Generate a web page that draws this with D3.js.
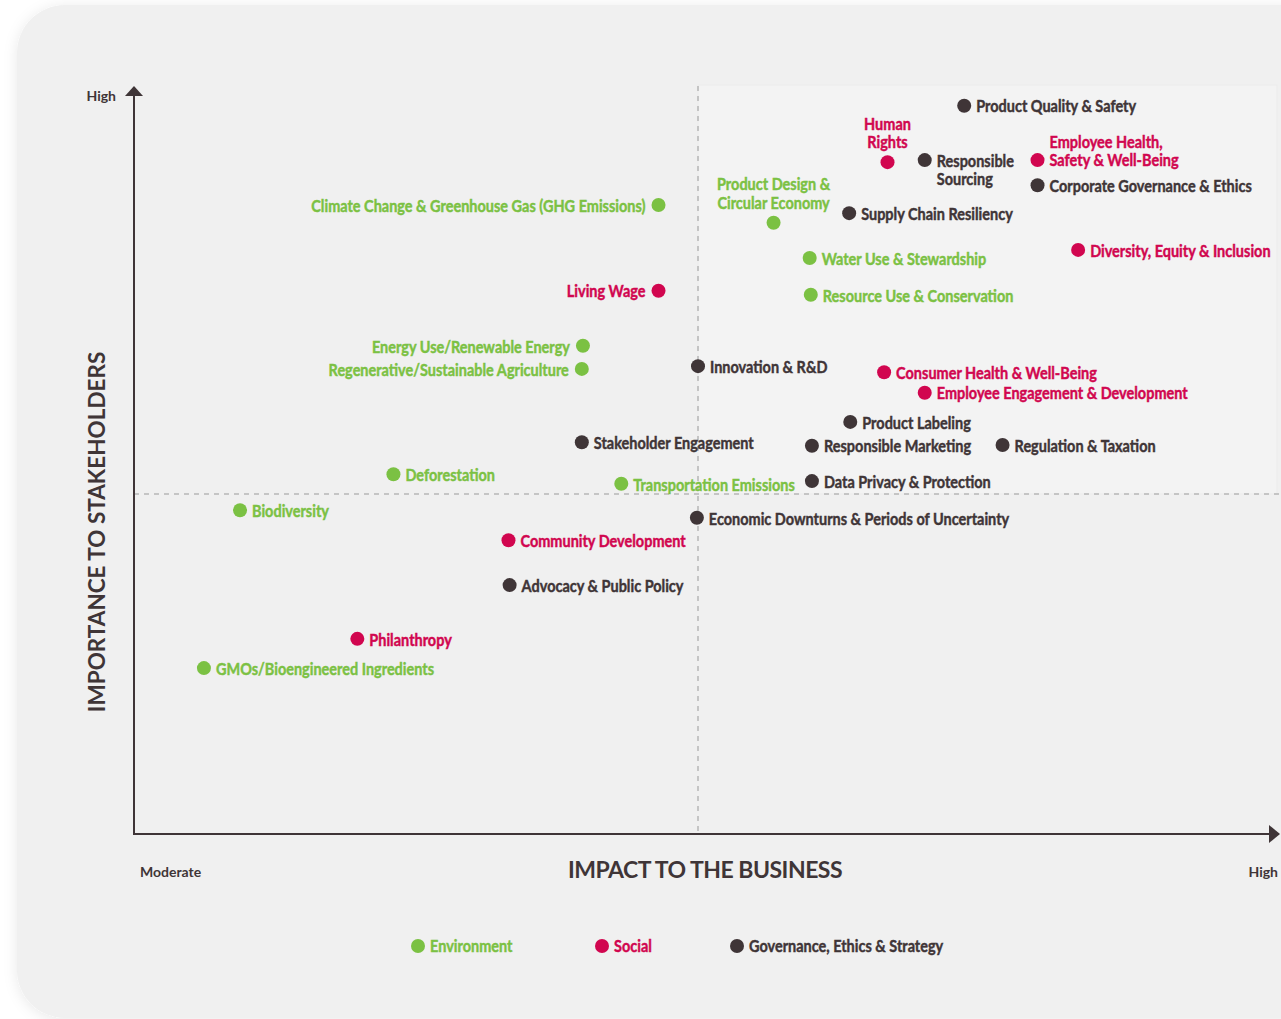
<!DOCTYPE html>
<html>
<head>
<meta charset="utf-8">
<script src="https://cdn.jsdelivr.net/npm/d3@7"></script>
<style>
  html, body { margin: 0; padding: 0; background: #ffffff; }
  svg { display: block; }
</style>
</head>
<body>
<div class="js-matrix"></div>
<script>
(function() {
  'use strict';

  /* ------------------------------------------------------------ *\
      Data: topic, category, impact (x), importance (y)
  \* ------------------------------------------------------------ */

  var categories = ['Environment', 'Social', 'Governance, Ethics & Strategy'];

  var environmentTopics = [
    ['Climate Change & Greenhouse Gas (GHG Emissions)', 46.5, 92.5],
    ['Product Design &\nCircular Economy', 56.7, 89.9],
    ['Water Use & Stewardship', 59.9, 84.7],
    ['Resource Use & Conservation', 60.0, 79.3],
    ['Energy Use/Renewable Energy', 39.8, 71.8],
    ['Regenerative/Sustainable Agriculture', 39.7, 68.4],
    ['Deforestation', 23.0, 52.9],
    ['Transportation Emissions', 43.2, 51.5],
    ['Biodiversity', 9.4, 47.6],
    ['GMOs/Bioengineered Ingredients', 6.2, 24.4]
  ];

  var socialTopics = [
    ['Human\nRights', 66.8, 98.8],
    ['Employee Health,\nSafety & Well-Being', 80.1, 99.1],
    ['Diversity, Equity & Inclusion', 83.7, 85.9],
    ['Living Wage', 46.5, 79.9],
    ['Consumer Health & Well-Being', 66.5, 67.9],
    ['Employee Engagement & Development', 70.1, 64.9],
    ['Community Development', 33.2, 43.2],
    ['Philanthropy', 19.8, 28.7]
  ];

  var governanceTopics = [
    ['Product Quality & Safety', 73.6, 107.1],
    ['Responsible\nSourcing', 70.1, 99.1],
    ['Corporate Governance & Ethics', 80.1, 95.4],
    ['Supply Chain Resiliency', 63.4, 91.3],
    ['Innovation & R&D', 50.0, 68.8],
    ['Product Labeling', 63.5, 60.6],
    ['Stakeholder Engagement', 39.7, 57.6],
    ['Responsible Marketing', 60.1, 57.1],
    ['Regulation & Taxation', 77.0, 57.2],
    ['Data Privacy & Protection', 60.1, 51.9],
    ['Economic Downturns & Periods of Uncertainty', 49.9, 46.5],
    ['Advocacy & Public Policy', 33.3, 36.6]
  ];

  /* ------------------------------------------------------------ *\
      Label placement (left of dot, stacked above, first line up)
  \* ------------------------------------------------------------ */

  var leftLabels = [
    'Climate Change & Greenhouse Gas (GHG Emissions)',
    'Energy Use/Renewable Energy',
    'Regenerative/Sustainable Agriculture',
    'Living Wage'
  ];
  var aboveLabels = ['Product Design &\nCircular Economy', 'Human\nRights'];
  var raisedLabels = ['Employee Health,\nSafety & Well-Being'];

  /* ------------------------------------------------------------ *\
      Sizes and colours
  \* ------------------------------------------------------------ */

  var width = 1281;
  var height = 1019;
  var colours = ['#7bc143', '#d1064f', '#3f3537'];
  var axisColour = '#3f3537';
  var dotRadius = 7;
  var labelFont = 'Lato, Roboto, sans-serif';
  var labelWeight = 700;
  var axisFont = 'Lato, "Open Sans", sans-serif';

  var x = d3.scaleLinear().domain([0, 100]).range([134, 1262]);
  var y = d3.scaleLinear().domain([0, 110]).range([834, 86]);
  var colour = d3.scaleOrdinal().domain(categories).range(colours);

  var topics = []
    .concat(environmentTopics.map(function(d) { return {name: d[0], cat: categories[0], impact: d[1], importance: d[2]}; }))
    .concat(socialTopics.map(function(d) { return {name: d[0], cat: categories[1], impact: d[1], importance: d[2]}; }))
    .concat(governanceTopics.map(function(d) { return {name: d[0], cat: categories[2], impact: d[1], importance: d[2]}; }));

  var svg = d3.select('.js-matrix')
    .append('svg')
    .attr('width', width)
    .attr('height', height);

  /* ------------------------------------------------------------ *\
      Condensed look: squeeze the label font horizontally
  \* ------------------------------------------------------------ */

  var probe = svg.append('text')
    .attr('font-family', labelFont)
    .attr('font-weight', labelWeight)
    .attr('font-size', 16.5)
    .text('Product Quality & Safety');
  var squeeze = 160 / probe.node().getComputedTextLength();
  probe.remove();

  /* ------------------------------------------------------------ *\
      Card with soft shadow
  \* ------------------------------------------------------------ */

  var defs = svg.append('defs');
  var shadow = defs.append('filter')
    .attr('id', 'card-shadow')
    .attr('x', '-10%').attr('y', '-10%')
    .attr('width', '120%').attr('height', '120%');
  shadow.append('feDropShadow')
    .attr('dx', 0).attr('dy', 2)
    .attr('stdDeviation', 7)
    .attr('flood-color', '#000')
    .attr('flood-opacity', 0.09);

  svg.append('rect')
    .attr('x', 17).attr('y', 5)
    .attr('width', 1400).attr('height', 1013)
    .attr('rx', 48).attr('ry', 48)
    .attr('fill', '#f0f0f0')
    .attr('filter', 'url(#card-shadow)');

  // lighter top-right quadrant
  svg.append('rect')
    .attr('x', x(50)).attr('y', y(110) - 1)
    .attr('width', 1277 - x(50))
    .attr('height', y(50) - y(110) + 1)
    .attr('fill', '#f3f3f3')
    .attr('stroke', '#ebebeb')
    .attr('stroke-width', 1);

  /* ------------------------------------------------------------ *\
      Quadrant dividers
  \* ------------------------------------------------------------ */

  svg.append('line')
    .attr('x1', x(50)).attr('x2', x(50))
    .attr('y1', y(110)).attr('y2', y(0))
    .attr('stroke', '#9a9a9a')
    .attr('stroke-width', 1)
    .attr('stroke-dasharray', '5,5');

  svg.append('line')
    .attr('x1', x(0)).attr('x2', width)
    .attr('y1', y(50)).attr('y2', y(50))
    .attr('stroke', '#9a9a9a')
    .attr('stroke-width', 1)
    .attr('stroke-dasharray', '5,5');

  /* ------------------------------------------------------------ *\
      Axes with arrow heads
  \* ------------------------------------------------------------ */

  svg.append('line')
    .attr('x1', x(0)).attr('x2', x(0))
    .attr('y1', y(0) + 1).attr('y2', y(110) + 6)
    .attr('stroke', axisColour)
    .attr('stroke-width', 2);

  svg.append('path')
    .attr('d', 'M ' + (x(0) - 9) + ' ' + (y(110) + 10) + ' L ' + x(0) + ' ' + y(110) + ' L ' + (x(0) + 9) + ' ' + (y(110) + 10) + ' Z')
    .attr('fill', axisColour);

  svg.append('line')
    .attr('x1', x(0) - 1).attr('x2', 1272)
    .attr('y1', y(0)).attr('y2', y(0))
    .attr('stroke', axisColour)
    .attr('stroke-width', 2);

  svg.append('path')
    .attr('d', 'M 1269 ' + (y(0) - 9) + ' L 1280 ' + y(0) + ' L 1269 ' + (y(0) + 9) + ' Z')
    .attr('fill', axisColour);

  svg.append('text')
    .attr('x', 116).attr('y', 101)
    .attr('text-anchor', 'end')
    .attr('font-family', axisFont)
    .attr('font-weight', 700)
    .attr('font-size', 14)
    .attr('fill', axisColour)
    .text('High');

  svg.append('text')
    .attr('x', 140).attr('y', 877)
    .attr('font-family', axisFont)
    .attr('font-weight', 700)
    .attr('font-size', 14)
    .attr('fill', axisColour)
    .text('Moderate');

  svg.append('text')
    .attr('x', 1278).attr('y', 877)
    .attr('text-anchor', 'end')
    .attr('font-family', axisFont)
    .attr('font-weight', 700)
    .attr('font-size', 14)
    .attr('fill', axisColour)
    .text('High');

  svg.append('text')
    .attr('x', 705).attr('y', 878)
    .attr('text-anchor', 'middle')
    .attr('font-family', axisFont)
    .attr('font-weight', 700)
    .attr('font-size', 23)
    .attr('letter-spacing', -0.5)
    .attr('fill', axisColour)
    .text('IMPACT TO THE BUSINESS');

  svg.append('text')
    .attr('transform', 'translate(105,532) rotate(-90)')
    .attr('text-anchor', 'middle')
    .attr('font-family', axisFont)
    .attr('font-weight', 700)
    .attr('font-size', 22.5)
    .attr('fill', axisColour)
    .text('IMPORTANCE TO STAKEHOLDERS');

  /* ------------------------------------------------------------ *\
      Topic dots and labels
  \* ------------------------------------------------------------ */

  var topic = svg.append('g')
    .selectAll('g')
    .data(topics)
    .join('g')
    .attr('transform', function(d) { return 'translate(' + x(d.impact) + ',' + y(d.importance) + ')'; });

  topic.append('circle')
    .attr('r', dotRadius)
    .attr('fill', function(d) { return colour(d.cat); });

  topic.append('text')
    .attr('font-family', labelFont)
    .attr('font-weight', labelWeight)
    .attr('font-size', 16.5)
    .attr('fill', function(d) { return colour(d.cat); })
    .attr('stroke', function(d) { return colour(d.cat); })
    .attr('stroke-width', 0.45)
    .attr('text-anchor', function(d) {
      if (leftLabels.indexOf(d.name) >= 0) return 'end';
      if (aboveLabels.indexOf(d.name) >= 0) return 'middle';
      return 'start';
    })
    .each(function(d) {
      var el = d3.select(this);
      var tx = 12;
      var ty = 1;
      if (leftLabels.indexOf(d.name) >= 0) tx = -13;
      if (aboveLabels.indexOf(d.name) >= 0) { tx = 0; ty = -38; }
      if (raisedLabels.indexOf(d.name) >= 0) { ty = -18; }
      el.attr('transform', 'translate(' + tx + ',' + ty + ') scale(' + squeeze + ',1)');
      d.name.split('\n').forEach(function(line, i) {
        el.append('tspan')
          .attr('x', 0)
          .attr('y', i * 18.5)
          .attr('dy', '0.35em')
          .text(line);
      });
    });

  /* ------------------------------------------------------------ *\
      Legend
  \* ------------------------------------------------------------ */

  var legendX = [418, 602, 737];

  var legend = svg.append('g')
    .selectAll('g')
    .data(categories)
    .join('g')
    .attr('transform', function(d, i) { return 'translate(' + legendX[i] + ',946)'; });

  legend.append('circle')
    .attr('r', dotRadius)
    .attr('fill', function(d) { return colour(d); });

  legend.append('text')
    .attr('transform', 'translate(12,0) scale(' + squeeze + ',1)')
    .attr('dy', '0.35em')
    .attr('font-family', labelFont)
    .attr('font-weight', labelWeight)
    .attr('font-size', 16.5)
    .attr('fill', function(d) { return colour(d); })
    .attr('stroke', function(d) { return colour(d); })
    .attr('stroke-width', 0.45)
    .text(function(d) { return d; });
})();
</script>
</body>
</html>
